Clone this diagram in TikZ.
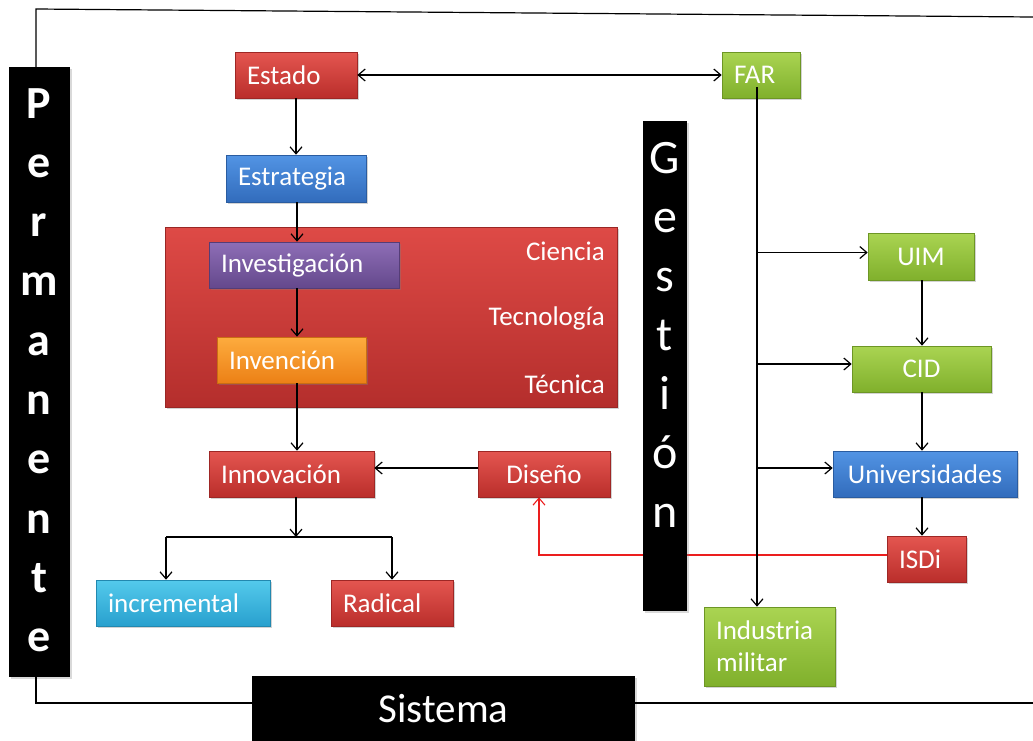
\documentclass[tikz,border=0pt]{standalone}
\usepackage{fontspec}
\setmainfont{Carlito}
\usetikzlibrary{arrows.meta,shadows,calc}

% box colours: lighter top, darker bottom
\definecolor{redT}{RGB}{228,86,80}
\definecolor{redB}{RGB}{186,46,43}
\definecolor{blueT}{RGB}{82,148,228}
\definecolor{blueB}{RGB}{50,108,188}
\definecolor{greenT}{RGB}{170,212,82}
\definecolor{greenB}{RGB}{128,176,44}
\definecolor{purpT}{RGB}{142,110,182}
\definecolor{purpB}{RGB}{100,72,140}
\definecolor{orT}{RGB}{253,172,62}
\definecolor{orB}{RGB}{236,128,22}
\definecolor{cyT}{RGB}{84,202,236}
\definecolor{cyB}{RGB}{40,160,206}
\definecolor{bigT}{RGB}{222,74,70}
\definecolor{bigB}{RGB}{180,46,44}
\definecolor{linkred}{RGB}{235,30,30}

\tikzset{
  x=1pt, y=-1pt,
  box/.style={rectangle, inner ysep=0pt, minimum height=46pt, text=white,
    font=\fontsize{27}{32}\selectfont, line width=0.6pt,
    drop shadow={shadow xshift=1.5pt, shadow yshift=-2pt, opacity=0.35}},
  lbox/.style={box, inner xsep=12pt, text width=#1, align=left},
  cbox/.style={box, inner xsep=0pt, minimum width=#1, align=center},
  fred/.style={top color=redT, bottom color=redB, draw=redB!85!black},
  fblue/.style={top color=blueT, bottom color=blueB, draw=blueB!85!black},
  fgreen/.style={top color=greenT, bottom color=greenB, draw=greenB!85!black},
  fpurp/.style={top color=purpT, bottom color=purpB, draw=purpB!85!black},
  forange/.style={top color=orT, bottom color=orB, draw=orB!85!black},
  fcyan/.style={top color=cyT, bottom color=cyB, draw=cyB!85!black},
  bar/.style={rectangle, fill=black, inner sep=0pt,
    drop shadow={shadow xshift=1.5pt, shadow yshift=-2pt, opacity=0.3}},
  barletter/.style={text=white, inner sep=0pt, anchor=base},
  inlabel/.style={text=white, inner sep=0pt, anchor=east, font=\fontsize{27}{32}\selectfont},
  arr/.style={line width=1.2pt, -{Straight Barb[length=7pt,width=12pt]}},
  border/.style={line width=1.2pt},
}

\begin{document}
\begin{tikzpicture}
\clip (0,0) rectangle (1033,740);

% frame bars
\node[bar, minimum width=61pt, minimum height=610pt] (perm) at (39.5,372) {};
\node[bar, minimum width=383pt, minimum height=69pt] (sist) at (443.5,710.5) {};
\foreach \l [count=\i from 0] in {P,e,r,m,a,n,e,n,t,e}
  \node[barletter, font=\fontsize{46}{50}\selectfont\bfseries] (perm\i) at (39,{118+59.3*\i}) {\l};
\node[barletter, font=\fontsize{41}{46}\selectfont] (sistT) at (443.5,722) {Sistema};

% frame lines
\coordinate (tl) at (36,9);
\coordinate (tr) at (1033,17);
\coordinate (bl) at (36,703);
\coordinate (br) at (1033,703);
\draw[border] (perm.north -| tl) -- (tl) -- (tr);
\draw[border] (perm.south -| bl) -- (bl) -- (sist.west |- bl);
\draw[border] (sist.east |- br) -- (br);

% central block
\node[rectangle, top color=bigT, bottom color=bigB, draw=bigB!85!black, line width=0.6pt,
  minimum width=452pt, minimum height=180pt, inner sep=0pt,
  drop shadow={shadow xshift=1.5pt, shadow yshift=-2pt, opacity=0.35}] (big) at (391,317) {};
\node[inlabel] (ciencia) at (605,251) {Ciencia};
\node[inlabel] (tecnologia) at (605,318) {Tecnología};
\node[inlabel] (tecnica) at (605,384) {Técnica};

% boxes
\node[lbox=98pt, fred] (estado) at (296,75) {Estado};
\node[lbox=54pt, fgreen] (far) at (761,75) {FAR};
\node[lbox=116pt, fblue, minimum height=47pt] (estrategia) at (296,178.5) {Estrategia};
\node[lbox=166pt, fpurp] (investigacion) at (304,265) {Investigación};
\node[lbox=125pt, forange] (invencion) at (291.5,360) {Invención};
\node[lbox=141pt, fred] (innovacion) at (291.5,474) {Innovación};
\node[cbox=132pt, fred] (diseno) at (544,474) {Diseño};
\node[lbox=150pt, fcyan] (incremental) at (183,603) {incremental};
\node[lbox=98pt, fred] (radical) at (392,603) {Radical};
\node[cbox=106pt, fgreen, minimum height=47pt] (uim) at (921,256.5) {UIM};
\node[cbox=139pt, fgreen] (cid) at (921.5,369) {CID};
\node[cbox=184pt, fblue] (univ) at (925,474) {Universidades};
\node[lbox=55pt, fred] (isdi) at (926.5,559) {ISDi};
\node[lbox=107pt, fgreen, minimum height=79pt] (industria) at (769.5,646.5) {Industria\\militar};

% ISDi back to Diseño, passing under the Gestión bar
\draw[arr, color=linkred, line width=1.1pt] ($(isdi.west)+(0,-4)$) -| ($(diseno.south)+(-5,0)$);

% Gestión bar
\node[bar, minimum width=44pt, minimum height=490pt] (gest) at (665,366) {};
\foreach \l [count=\i from 0] in {G,e,s,t,i,ó,n}
  \node[barletter, font=\fontsize{48}{52}\selectfont] (gest\i) at (665,{173+59*\i}) {\l};

% left chain
\coordinate (spine) at (297,0);
\draw[arr, {Straight Barb[length=7pt,width=12pt]}-{Straight Barb[length=7pt,width=12pt]}] (estado.east) -- (far.west);
\draw[arr] (estado.south) -- (estrategia.north);
\draw[arr] (estrategia.south -| spine) -- (investigacion.north -| spine);
\draw[arr] (investigacion.south -| spine) -- (invencion.north -| spine);
\draw[arr] (invencion.south -| spine) -- (innovacion.north -| spine);
\draw[arr] ($(diseno.west)+(0,-6)$) -- ($(innovacion.east)+(0,-6)$);
\coordinate (fork) at (296,537);
\coordinate (forkL) at (166,537);
\coordinate (forkR) at (392,537);
\draw[arr] (innovacion.south -| fork) -- (fork);
\draw[line width=1.2pt] (forkL) -- (forkR);
\draw[arr] (forkL) -- (incremental.north -| forkL);
\draw[arr] (forkR) -- (radical.north);

% right chain
\coordinate (trunk) at (757,0);
\coordinate (col) at (922,0);
\draw[arr] ($(far.south -| trunk)+(0,-11)$) -- (industria.north -| trunk);
\draw[arr] ($(uim.west -| trunk)+(0,-4)$) -- ($(uim.west)+(0,-4)$);
\draw[arr] ($(cid.west -| trunk)+(0,-5)$) -- ($(cid.west)+(0,-5)$);
\draw[arr] ($(univ.west -| trunk)+(0,-6)$) -- ($(univ.west)+(0,-6)$);
\draw[arr] (uim.south -| col) -- (cid.north -| col);
\draw[arr] (cid.south -| col) -- (univ.north -| col);
\draw[arr] (univ.south -| col) -- (isdi.north -| col);
\end{tikzpicture}
\end{document}
